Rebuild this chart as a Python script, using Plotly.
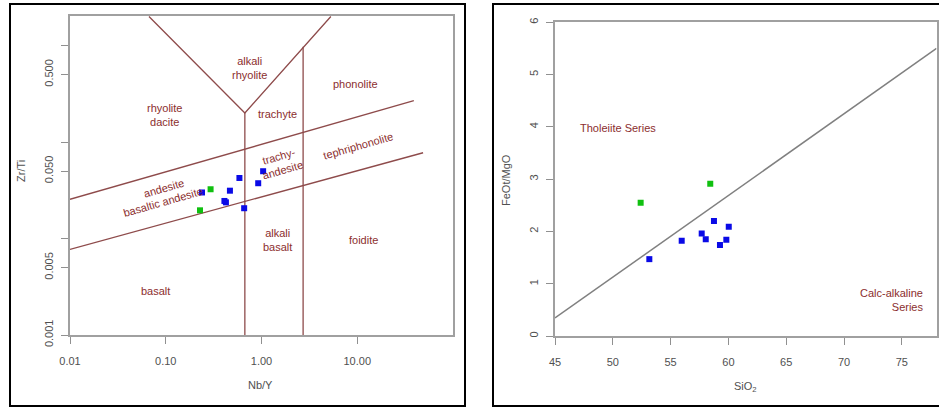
import numpy as np
import plotly.graph_objects as go

# ---------------- data: left panel (Zr/Ti vs Nb/Y) ----------------
blue_nby = [0.239, 0.425, 0.41, 0.468, 0.588, 0.659, 0.924, 1.04]
blue_zrti = [0.0300, 0.0237, 0.0245, 0.0313, 0.0424, 0.0206, 0.0374, 0.0498]
green_nby = [0.294, 0.228]
green_zrti = [0.0324, 0.0196]

# field boundaries (Nb/Y, Zr/Ti)
upper_x = [0.01, 39.0]
upper_y = [0.0255, 0.268]
lower_x = [0.01, 48.7]
lower_y = [0.00773, 0.0774]
vee_x = [0.0668, 0.67, 5.30]
vee_y = [2.0, 0.20, 2.0]
vert1_x = [0.67, 0.67]
vert1_y = [0.20, 0.001]
vert2_x = [2.72, 2.72]
vert2_y = [0.97, 0.001]

field_labels = ["alkali<br>rhyolite", "rhyolite<br>dacite", "phonolite", "trachyte",
                "tephriphonolite", "trachy-<br>andesite", "andesite", "basaltic andesite",
                "alkali<br>basalt", "foidite", "basalt"]
field_x = [0.757, 0.0965, 9.6, 1.46, 10.1, 1.59, 0.0965, 0.093, 1.47, 11.5, 0.0785]
field_y = [0.585, 0.19, 0.396, 0.196, 0.0917, 0.060, 0.0336, 0.024, 0.0096, 0.0096, 0.00288]
field_angle = [0, 0, 0, 0, -16, -16, -16, -16, 0, 0, 0]

left_xticks = [0.01, 0.1, 1, 10]
left_xtext = ["0.01", "0.10", "1.00", "10.00"]
left_yticks = [0.001, 0.005, 0.05, 0.5]
left_ytext = ["0.001", "0.005", "0.050", "0.500"]
left_yminor = [0.01, 0.1, 1]

# ---------------- data: right panel (FeOt/MgO vs SiO2) ----------------
blue_sio2 = [53.16, 55.96, 57.69, 58.04, 58.75, 59.27, 59.82, 60.03]
blue_femg = [1.47, 1.82, 1.96, 1.85, 2.20, 1.74, 1.84, 2.09]
green_sio2 = [52.41, 58.43]
green_femg = [2.55, 2.91]

divide_x = [45, 78]
divide_y = [0.344, 5.50]

right_xticks = [45, 50, 55, 60, 65, 70, 75]
right_yticks = [0, 1, 2, 3, 4, 5, 6]

W, H = 939, 408
BROWN_LINE = "#8e4b4b"
BROWN_TEXT = "#8b2e2e"
FONT = "Liberation Sans, Arial, sans-serif"


def px(x):
    return x / W


def py(y):
    return 1 - y / H


fig = go.Figure()

# left boundaries
for bx, by in [(upper_x, upper_y), (lower_x, lower_y), (vee_x, vee_y),
               (vert1_x, vert1_y), (vert2_x, vert2_y)]:
    fig.add_trace(go.Scatter(x=bx, y=by, mode="lines", xaxis="x", yaxis="y",
                             line=dict(color=BROWN_LINE, width=1.3),
                             hoverinfo="skip", showlegend=False))

# right divide line
fig.add_trace(go.Scatter(x=divide_x, y=divide_y, mode="lines", xaxis="x2", yaxis="y2",
                         line=dict(color="#808080", width=1.5),
                         hoverinfo="skip", showlegend=False))

# points
fig.add_trace(go.Scatter(x=blue_nby, y=blue_zrti, mode="markers", xaxis="x", yaxis="y",
                         marker=dict(symbol="square", size=6, color="#0a0ae6"), showlegend=False))
fig.add_trace(go.Scatter(x=green_nby, y=green_zrti, mode="markers", xaxis="x", yaxis="y",
                         marker=dict(symbol="square", size=6, color="#10c010"), showlegend=False))
fig.add_trace(go.Scatter(x=blue_sio2, y=blue_femg, mode="markers", xaxis="x2", yaxis="y2",
                         marker=dict(symbol="square", size=6, color="#0a0ae6"), showlegend=False))
fig.add_trace(go.Scatter(x=green_sio2, y=green_femg, mode="markers", xaxis="x2", yaxis="y2",
                         marker=dict(symbol="square", size=6, color="#10c010"), showlegend=False))

annotations = []
for t, x, y, a in zip(field_labels, field_x, field_y, field_angle):
    annotations.append(dict(text=t, x=np.log10(x), y=np.log10(y), xref="x", yref="y",
                            showarrow=False, textangle=a, xanchor="center", yanchor="middle",
                            font=dict(family=FONT, size=11, color=BROWN_TEXT)))

annotations.append(dict(text="Tholeiite Series", x=50.48, y=3.97, xref="x2", yref="y2",
                        showarrow=False, xanchor="center", yanchor="middle",
                        font=dict(family=FONT, size=11, color=BROWN_TEXT)))
annotations.append(dict(text="Calc-alkaline<br>Series", x=77.0, y=0.69, xref="x2", yref="y2",
                        xanchor="right", yanchor="middle", align="right", showarrow=False,
                        font=dict(family=FONT, size=11, color=BROWN_TEXT)))

AX_FONT = dict(family=FONT, size=11, color="#505050")
annotations += [
    dict(text="Zr/Ti", x=px(21), y=py(171), xref="paper", yref="paper", textangle=-90,
         xanchor="center", yanchor="middle", showarrow=False, font=AX_FONT),
    dict(text="Nb/Y", x=px(260), y=py(385), xref="paper", yref="paper",
         xanchor="center", yanchor="middle", showarrow=False, font=AX_FONT),
    dict(text="FeOt/MgO", x=px(506), y=py(180), xref="paper", yref="paper", textangle=-90,
         xanchor="center", yanchor="middle", showarrow=False, font=AX_FONT),
    dict(text="SiO<sub>2</sub>", x=px(745), y=py(387), xref="paper", yref="paper",
         xanchor="center", yanchor="middle", showarrow=False, font=AX_FONT),
]

axis_common = dict(showgrid=False, zeroline=False, showline=True, mirror=True,
                   linecolor="#a0a0a0", linewidth=1.5, ticks="outside", ticklen=7,
                   tickcolor="#909090", tickwidth=1, tickfont=AX_FONT, automargin=False)

shapes = [
    dict(type="rect", xref="paper", yref="paper", x0=px(10), x1=px(465), y0=py(406), y1=py(4),
         line=dict(color="black", width=2)),
    dict(type="rect", xref="paper", yref="paper", x0=px(493), x1=px(960), y0=py(406), y1=py(4),
         line=dict(color="black", width=2)),
]

fig.update_layout(
    width=W, height=H, margin=dict(l=0, r=0, t=0, b=0, autoexpand=False),
    paper_bgcolor="white", plot_bgcolor="white", showlegend=False,
    font=dict(family=FONT),
    xaxis=dict(domain=[px(70), px(453)], anchor="y", type="log", range=[-2, 2],
               tickvals=left_xticks, ticktext=left_xtext, ticklabelstandoff=8, **axis_common),
    yaxis=dict(domain=[py(335), py(16)], anchor="x", type="log", range=[-3, 0.306],
               tickvals=left_yticks, ticktext=left_ytext, tickangle=-90,
               ticklabelstandoff=4,
               minor=dict(tickvals=left_yminor, ticks="outside", ticklen=7,
                          tickcolor="#909090", tickwidth=1, showgrid=False),
               **axis_common),
    xaxis2=dict(domain=[px(555), px(936.5)], anchor="y2", range=[45, 78],
                tickvals=right_xticks, ticklabelstandoff=8, **axis_common),
    yaxis2=dict(domain=[py(336), py(22.3)], anchor="x2", range=[0, 6],
                tickvals=right_yticks, tickangle=-90, ticklabelstandoff=4, **axis_common),
    annotations=annotations, shapes=shapes,
)

fig.write_html("out.html", config={"displayModeBar": False},
               post_script="document.body.style.margin='0';document.body.style.overflow='hidden';")
